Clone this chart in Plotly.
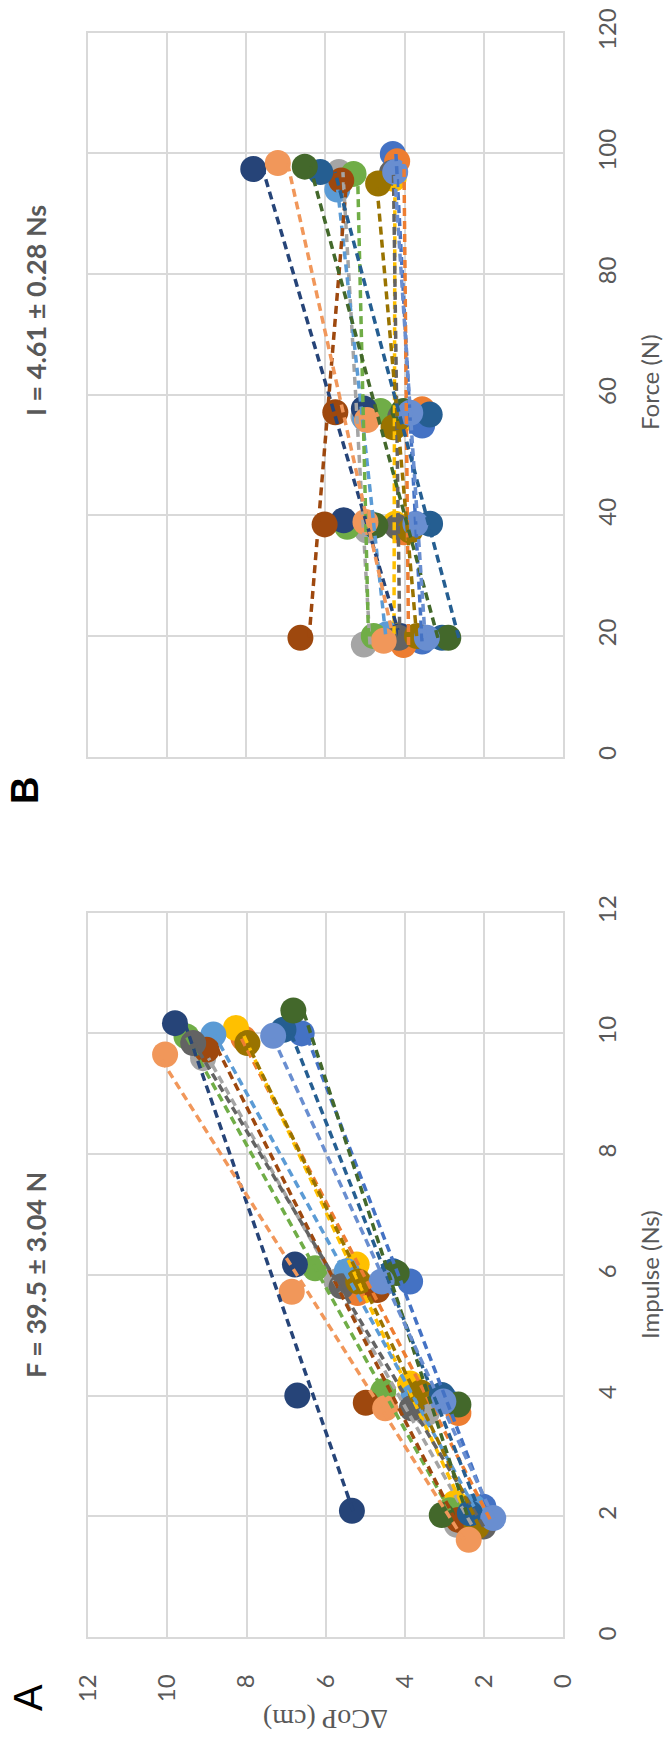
import numpy as np
import plotly.graph_objects as go

# Series colours (one per participant)
COLORS = ["#4472C4", "#ED7D31", "#A5A5A5", "#FFC000", "#5B9BD5", "#70AD47", "#264478",
          "#9E480E", "#636363", "#997300", "#255E91", "#43682B", "#698ED0", "#F1975A"]

# Panel A: impulse (Ns) and centre-of-pressure displacement (cm), four trials per participant
IMPULSE_A = [
    [2.16, 3.95, 5.89, 10.00],
    [1.95, 3.71, 5.70, 9.92],
    [1.86, 3.71, 5.89, 9.59],
    [2.22, 4.20, 6.17, 10.09],
    [2.16, 3.98, 6.06, 9.98],
    [2.10, 4.07, 6.11, 9.95],
    [2.09, 4.00, 6.17, 10.17],
    [1.94, 3.88, 5.75, 9.73],
    [1.83, 3.79, 5.81, 9.84],
    [1.83, 4.05, 5.89, 9.84],
    [2.05, 4.01, 6.06, 10.06],
    [2.02, 3.85, 6.03, 10.38],
    [1.97, 3.90, 5.89, 9.96],
    [1.61, 3.79, 5.72, 9.65],
]
COP_A = [
    [2.02, 3.00, 3.87, 6.61],
    [2.10, 2.65, 5.20, 8.08],
    [2.69, 3.45, 5.73, 9.10],
    [2.74, 3.87, 5.22, 8.27],
    [2.28, 3.79, 5.47, 8.84],
    [2.86, 4.55, 6.27, 9.52],
    [5.34, 6.72, 6.78, 9.81],
    [2.65, 4.99, 4.70, 9.01],
    [2.02, 3.83, 5.60, 9.35],
    [2.19, 3.60, 5.18, 7.98],
    [2.36, 3.07, 4.30, 7.07],
    [3.07, 2.65, 4.21, 6.82],
    [1.77, 3.03, 4.59, 7.33],
    [2.39, 4.50, 6.86, 10.06],
]

# Panel B: force (N) and centre-of-pressure displacement (cm)
FORCE_B = [
    [19.1, 38.1, 54.9, 99.9],
    [18.5, 37.2, 57.6, 98.7],
    [18.6, 37.5, 56.4, 96.9],
    [20.3, 38.6, 55.0, 95.8],
    [20.3, 38.6, 56.0, 94.0],
    [20.0, 38.1, 57.3, 96.6],
    [20.0, 39.2, 57.7, 97.4],
    [19.7, 38.5, 57.1, 95.5],
    [19.7, 38.1, 56.4, 96.8],
    [20.0, 37.5, 54.6, 95.0],
    [19.7, 38.6, 56.7, 96.9],
    [19.7, 38.3, 57.3, 97.8],
    [19.7, 38.6, 57.0, 96.9],
    [19.2, 38.9, 55.8, 98.4],
]
COP_B = [
    [3.56, 3.94, 3.56, 4.30],
    [4.03, 4.03, 3.56, 4.19],
    [5.03, 4.95, 5.04, 5.66],
    [4.32, 4.24, 4.20, 4.28],
    [4.45, 4.87, 5.00, 5.70],
    [4.78, 5.45, 4.61, 5.29],
    [4.11, 5.54, 5.03, 7.82],
    [6.63, 6.02, 5.75, 5.60],
    [4.15, 4.19, 4.11, 4.32],
    [3.69, 3.86, 4.28, 4.67],
    [3.06, 3.36, 3.37, 6.13],
    [2.90, 4.74, 4.03, 6.52],
    [3.44, 3.73, 3.86, 4.24],
    [4.53, 4.99, 4.95, 7.20],
]

COP_TICKS = [0, 2, 4, 6, 8, 10, 12]
IMPULSE_TICKS = [0, 2, 4, 6, 8, 10, 12]
FORCE_TICKS = [0, 20, 40, 60, 80, 100, 120]

W, H = 669, 1753
GRID = "#d9d9d9"
TXT = "#595959"
SANS = "Lato, Carlito, sans-serif"
TICK_FONT = dict(family=SANS, size=24, color=TXT)

fig = go.Figure()

panels = (("x", "y", COP_A, IMPULSE_A), ("x2", "y2", COP_B, FORCE_B))

# Markers for every participant (the layout is rotated: CoP runs horizontally)
for xa, ya, cop_all, drv_all in panels:
    for col, cop, drv in zip(COLORS, cop_all, drv_all):
        fig.add_trace(go.Scatter(
            x=cop, y=drv, xaxis=xa, yaxis=ya, mode="markers",
            marker=dict(color=col, size=26, line=dict(width=0)),
            showlegend=False, hoverinfo="skip",
        ))

# Linear trendline of CoP against the driving variable, over each participant's range
for xa, ya, cop_all, drv_all in panels:
    for col, cop, drv in zip(COLORS, cop_all, drv_all):
        slope, icpt = np.polyfit(drv, cop, 1)
        ends = np.array([min(drv), max(drv)])
        fig.add_trace(go.Scatter(
            x=icpt + slope * ends, y=ends, xaxis=xa, yaxis=ya, mode="lines",
            line=dict(color=col, width=3.5, dash="8px,5px"),
            showlegend=False, hoverinfo="skip",
        ))

def px_x(v):
    return v / W

def px_y(v):
    return 1 - v / H

common_x = dict(range=[12, 0], tickvals=COP_TICKS, showgrid=True, gridcolor=GRID, gridwidth=1.5,
                zeroline=False, showline=True, mirror=True, linecolor=GRID, linewidth=1.5,
                ticks="", tickangle=-90, tickfont=TICK_FONT, automargin=False)
common_y = dict(showgrid=True, gridcolor=GRID, gridwidth=1.5, zeroline=False, showline=True,
                mirror=True, linecolor=GRID, linewidth=1.5, ticks="", side="right",
                tickangle=-90, tickfont=TICK_FONT, ticklabelstandoff=22, automargin=False)

fig.update_layout(
    width=W, height=H, margin=dict(l=0, r=0, t=0, b=0, autoexpand=False),
    paper_bgcolor="white", plot_bgcolor="white",
    xaxis=dict(domain=[px_x(88.3), px_x(563.3)], anchor="y", ticklabelstandoff=26, **common_x),
    yaxis=dict(domain=[px_y(1637), px_y(912.7)], anchor="x", range=[0, 12],
               tickvals=IMPULSE_TICKS, **common_y),
    xaxis2=dict(domain=[px_x(87.5), px_x(563.3)], anchor="y2", showticklabels=False, **common_x),
    yaxis2=dict(domain=[px_y(756.7), px_y(32.7)], anchor="x2", range=[0, 120],
                tickvals=FORCE_TICKS, **common_y),
)

def note(text, x, y, angle, size, color=TXT, family=SANS):
    fig.add_annotation(text=text, x=px_x(x), y=px_y(y), xref="paper", yref="paper",
                       xanchor="center", yanchor="middle", textangle=angle, showarrow=False,
                       font=dict(family=family, size=size, color=color))

note("ΔCoP (cm)", 326, 1720, 180, 28, family="Liberation Serif, serif")
note("Impulse (Ns)", 649, 1275, -90, 24)
note("Force (N)", 649, 382, -90, 24)
note("<b>F = 39.5 ± 3.04 N</b>", 35, 1275, -90, 27)
note("<b>I = 4.61 ± 0.28 Ns</b>", 35, 311, -90, 27)
note("A", 28, 1698, -90, 40, color="black", family="Liberation Sans, Arial, sans-serif")
note("<b>B</b>", 25, 791, -90, 38, color="black", family="Liberation Sans, Arial, sans-serif")

fig.write_html("out.html")
